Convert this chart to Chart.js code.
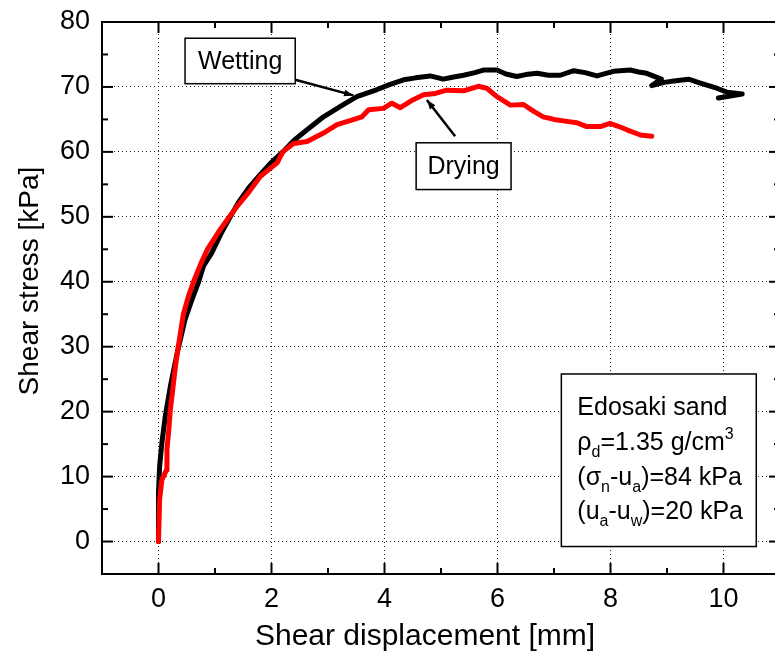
<!DOCTYPE html>
<html><head><meta charset="utf-8">
<script src="https://cdn.jsdelivr.net/npm/chart.js@4.4.0/dist/chart.umd.min.js"></script>
<style>
html,body{margin:0;padding:0;background:#fff;overflow:hidden;width:775px;height:657px}
#wrap{width:790px;height:657px;position:relative}
</style></head>
<body><div id="wrap"><canvas id="c" width="790" height="657"></canvas></div>
<script>
// ---- data ----
const wettingX = [0, 0, 0.02, 0.06, 0.12, 0.21, 0.33, 0.47, 0.59, 0.71, 0.8, 0.94, 1.1, 1.27, 1.42, 1.6, 1.8, 2.0, 2.2, 2.4, 2.63, 2.92, 3.22, 3.51, 3.87, 4.1, 4.34, 4.55, 4.81, 5.04, 5.2, 5.4, 5.6, 5.75, 5.99, 6.15, 6.34, 6.5, 6.7, 6.9, 7.11, 7.35, 7.55, 7.76, 8.05, 8.35, 8.5, 8.64, 8.9, 8.73, 8.95, 9.12, 9.38, 9.59, 9.88, 10.06, 10.33, 9.91];
const wettingY = [0, 7.5, 11.6, 15.2, 19.3, 23.9, 29, 34.2, 37.2, 40, 42.5, 44.4, 47.3, 50, 52.3, 54.5, 56.5, 58.4, 60, 61.8, 63.4, 65.4, 67, 68.5, 69.6, 70.4, 71.1, 71.4, 71.7, 71.2, 71.5, 71.8, 72.2, 72.6, 72.6, 72.0, 71.6, 71.9, 72.1, 71.8, 71.8, 72.5, 72.2, 71.7, 72.4, 72.6, 72.3, 72.1, 71.2, 70.2, 70.7, 70.9, 71.2, 70.6, 69.8, 69.2, 68.9, 68.3];
const dryingX = [0, 0.02, 0.06, 0.14, 0.15, 0.18, 0.21, 0.3, 0.35, 0.44, 0.53, 0.62, 0.74, 0.86, 1.05, 1.27, 1.39, 1.6, 1.8, 2.1, 2.2, 2.39, 2.63, 2.92, 3.16, 3.39, 3.6, 3.72, 3.98, 4.13, 4.28, 4.5, 4.69, 4.9, 5.1, 5.4, 5.66, 5.81, 5.99, 6.23, 6.46, 6.65, 6.81, 7.0, 7.23, 7.4, 7.58, 7.82, 7.99, 8.15, 8.29, 8.53, 8.73];
const dryingY = [0, 6.5, 9.5, 11, 14.2, 17, 20.3, 27, 30, 35, 37.8, 40, 42.6, 44.9, 47.5, 50.2, 51.6, 53.8, 56.2, 58.3, 60, 61.3, 61.6, 62.9, 64.2, 64.8, 65.4, 66.5, 66.7, 67.5, 66.8, 68.0, 68.8, 69.0, 69.5, 69.4, 70.1, 69.8, 68.5, 67.2, 67.3, 66.2, 65.4, 65.0, 64.7, 64.5, 63.9, 63.9, 64.4, 63.9, 63.4, 62.6, 62.4];
const xTicks = [0, 2, 4, 6, 8, 10];
const yTicks = [0, 10, 20, 30, 40, 50, 60, 70, 80];
const xTitle = 'Shear displacement [mm]';
const yTitle = 'Shear stress [kPa]';
const seriesLabels = ['Wetting', 'Drying'];
const infoLines = [
  [['Edosaki sand', 'n']],
  [['ρ', 'n'], ['d', 'sub'], ['=1.35 g/cm', 'n'], ['3', 'sup']],
  [['(σ', 'n'], ['n', 'sub'], ['-u', 'n'], ['a', 'sub'], [')=84 kPa', 'n']],
  [['(u', 'n'], ['a', 'sub'], ['-u', 'n'], ['w', 'sub'], [')=20 kPa', 'n']]
];

// ---- layout / style (not data) ----
const FONT = "'Liberation Sans', Arial, sans-serif";
const labelBoxes = [
  {text: seriesLabels[0], x0: 0.47, x1: 2.42, y0: 77.5, y1: 70.5, ax0: 2.42, ay0: 71.1, ax1: 3.45, ay1: 68.7},
  {text: seriesLabels[1], x0: 4.56, x1: 6.24, y0: 61.4, y1: 54.2, ax0: 5.25, ay0: 62.4, ax1: 4.75, ay1: 68.0}
];
const infoBox = {x0: 7.13, x1: 10.58, y0: 25.8, y1: -0.77};

function pts(xs, ys) { return xs.map((x, i) => ({x: x, y: ys[i]})); }

const framePlugin = {
  id: 'frame',
  afterDraw(chart) {
    const ctx = chart.ctx, a = chart.chartArea;
    const xs = chart.scales.x, ys = chart.scales.y;
    ctx.save();
    ctx.strokeStyle = '#000';
    ctx.lineWidth = 2;
    ctx.setLineDash([]);
    ctx.strokeRect(a.left, a.top, a.right - a.left, a.bottom - a.top);
    const tick = (x1, y1, x2, y2) => { ctx.beginPath(); ctx.moveTo(x1, y1); ctx.lineTo(x2, y2); ctx.stroke(); };
    for (let v = 0; v <= 10; v += 1) {
      const px = xs.getPixelForValue(v);
      const L = (v % 2 === 0) ? 11 : 6;
      tick(px, a.bottom, px, a.bottom - L);
      tick(px, a.top, px, a.top + L);
    }
    for (let v = 0; v <= 80; v += 5) {
      const py = ys.getPixelForValue(v);
      const L = (v % 10 === 0) ? 11 : 6;
      tick(a.left, py, a.left + L, py);
      tick(a.right, py, a.right - L, py);
    }
    // label boxes with arrows
    ctx.font = '25px ' + FONT;
    ctx.textAlign = 'center';
    ctx.textBaseline = 'middle';
    labelBoxes.forEach(b => {
      const l = xs.getPixelForValue(b.x0), r = xs.getPixelForValue(b.x1);
      const t = ys.getPixelForValue(b.y0), bt = ys.getPixelForValue(b.y1);
      ctx.fillStyle = '#fff';
      ctx.fillRect(l, t, r - l, bt - t);
      ctx.lineWidth = 1.5;
      ctx.strokeStyle = '#000';
      ctx.strokeRect(l, t, r - l, bt - t);
      ctx.fillStyle = '#000';
      ctx.fillText(b.text, (l + r) / 2, (t + bt) / 2 + 1);
      const x1 = xs.getPixelForValue(b.ax0), y1 = ys.getPixelForValue(b.ay0);
      const x2 = xs.getPixelForValue(b.ax1), y2 = ys.getPixelForValue(b.ay1);
      ctx.lineWidth = 2.5;
      tick(x1, y1, x2, y2);
      const ang = Math.atan2(y2 - y1, x2 - x1);
      ctx.beginPath();
      ctx.moveTo(x2, y2);
      ctx.lineTo(x2 - 10 * Math.cos(ang - 0.35), y2 - 10 * Math.sin(ang - 0.35));
      ctx.lineTo(x2 - 10 * Math.cos(ang + 0.35), y2 - 10 * Math.sin(ang + 0.35));
      ctx.closePath();
      ctx.fill();
    });
    // info box
    {
      const l = xs.getPixelForValue(infoBox.x0), r = xs.getPixelForValue(infoBox.x1);
      const t = ys.getPixelForValue(infoBox.y0), bt = ys.getPixelForValue(infoBox.y1);
      ctx.fillStyle = '#fff';
      ctx.fillRect(l, t, r - l, bt - t);
      ctx.lineWidth = 1.5;
      ctx.strokeRect(l, t, r - l, bt - t);
      ctx.fillStyle = '#000';
      ctx.textAlign = 'left';
      ctx.textBaseline = 'alphabetic';
      infoLines.forEach((segs, i) => {
        let x = l + 16;
        const base = t + 41 + i * 34.8;
        segs.forEach(([s, kind]) => {
          if (kind === 'n') { ctx.font = '25px ' + FONT; ctx.fillText(s, x, base); }
          else if (kind === 'sub') { ctx.font = '16px ' + FONT; ctx.fillText(s, x, base + 7); }
          else { ctx.font = '16px ' + FONT; ctx.fillText(s, x, base - 11); }
          x += ctx.measureText(s).width;
        });
      });
    }
    // axis titles
    ctx.fillStyle = '#000';
    ctx.font = '30px ' + FONT;
    ctx.textAlign = 'center';
    ctx.textBaseline = 'alphabetic';
    ctx.fillText(xTitle, 425, 645);
    ctx.font = '28px ' + FONT;
    ctx.translate(38, 281);
    ctx.rotate(-Math.PI / 2);
    ctx.fillText(yTitle, 0, 0);
    ctx.restore();
  }
};

new Chart(document.getElementById('c'), {
  type: 'scatter',
  data: {
    datasets: [
      {label: seriesLabels[0], data: pts(wettingX, wettingY), showLine: true, borderColor: '#000', backgroundColor: '#000', borderWidth: 5, pointRadius: 0, tension: 0, order: 2, borderJoinStyle: 'round', borderCapStyle: 'round'},
      {label: seriesLabels[1], data: pts(dryingX, dryingY), showLine: true, borderColor: '#ff0000', backgroundColor: '#ff0000', borderWidth: 5, pointRadius: 0, tension: 0, order: 1, borderJoinStyle: 'round', borderCapStyle: 'round'}
    ]
  },
  options: {
    responsive: false,
    animation: false,
    devicePixelRatio: 1,
    layout: {padding: {left: 0, top: 22, right: 10, bottom: 0}},
    plugins: {legend: {display: false}, tooltip: {enabled: false}},
    scales: {
      x: {
        type: 'linear', min: -1, max: 11,
        afterBuildTicks: s => { s.ticks = xTicks.map(v => ({value: v})); },
        afterFit: s => { s.height = 83; s.paddingLeft = 0; s.paddingRight = 0; },
        ticks: {font: {family: FONT, size: 27}, color: '#000', padding: 9, maxRotation: 0, autoSkip: false},
        grid: {color: '#222', lineWidth: 1, drawTicks: false},
        border: {display: false, dash: [1, 3]}
      },
      y: {
        type: 'linear', min: -5, max: 80,
        afterBuildTicks: s => { s.ticks = yTicks.map(v => ({value: v})); },
        afterFit: s => { s.width = 102; s.paddingTop = 0; s.paddingBottom = 0; },
        ticks: {font: {family: FONT, size: 27}, color: '#000', padding: 12, autoSkip: false},
        grid: {color: '#222', lineWidth: 1, drawTicks: false},
        border: {display: false, dash: [1, 3]}
      }
    }
  },
  plugins: [framePlugin]
});
</script>
</body></html>
